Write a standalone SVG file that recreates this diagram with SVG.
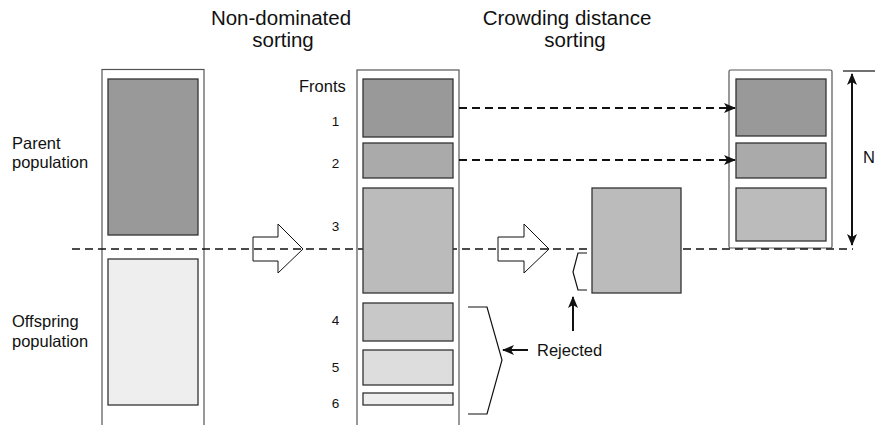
<svg xmlns="http://www.w3.org/2000/svg" width="875" height="425" viewBox="0 0 875 425">
<defs>
<style>
text{font-family:"Liberation Sans",Arial,sans-serif;fill:#111}
.t{font-size:20.5px;text-anchor:middle}
.l{font-size:16.5px}
.n{font-size:13.5px;text-anchor:middle}
.col{fill:#fff;stroke:#555;stroke-width:1.2}
.box{stroke:#333;stroke-width:1.3}
.hollow{fill:#fff;stroke:#111;stroke-width:1}
.dash{fill:none;stroke:#111;stroke-width:1.3;stroke-dasharray:8 5}
.dashb{fill:none;stroke:#111;stroke-width:2;stroke-dasharray:8 5}
.thin{fill:none;stroke:#111;stroke-width:1.2}
.solid{fill:none;stroke:#111;stroke-width:2}
</style>
<marker id="ah" viewBox="0 0 12 10" refX="11" refY="5" markerWidth="12" markerHeight="10" markerUnits="userSpaceOnUse" orient="auto-start-reverse">
<path d="M0,0 L12,5 L0,10 L3,5 Z" fill="#111"/>
</marker>
</defs>

<g id="titles">
<text class="t" x="281" y="25">Non-dominated</text>
<text class="t" x="283" y="47">sorting</text>
<text class="t" x="567" y="25">Crowding distance</text>
<text class="t" x="575" y="47">sorting</text>
</g>

<g id="columns">
<rect class="col" x="102" y="69.5" width="102" height="380"/>
<rect class="col" x="357" y="70" width="102" height="380"/>
<rect class="col" x="729" y="70" width="103" height="178" rx="1.5"/>
</g>

<g id="connectors">
<polygon class="hollow" points="253,237 278,237 278,224 303,249 278,273 278,261 253,261"/>
<polygon class="hollow" points="498,237 524,237 524,224 549,249 524,273 524,261 498,261"/>
<path class="dash" d="M72,249 H853"/>
<path class="dashb" d="M459,108 H735" marker-end="url(#ah)"/>
<path class="dashb" d="M459,160 H735" marker-end="url(#ah)"/>
<path class="thin" d="M843,71 H875"/>
<path class="solid" d="M852,74 V245" marker-start="url(#ah)" marker-end="url(#ah)"/>
<path class="thin" d="M468,307 H487 L502,360 L487,414 H468"/>
<path class="thin" d="M587,253 H578 L573,272 L578,290 H587"/>
<path class="solid" d="M573,331 V297" marker-end="url(#ah)"/>
<path class="solid" d="M528,350 H503" marker-end="url(#ah)"/>
<text class="l" x="537" y="356">Rejected</text>
</g>

<g id="population">
<rect class="box" x="108" y="79" width="90" height="156" fill="#999"/>
<rect class="box" x="108" y="259" width="90" height="146" fill="#eee"/>
<text class="l" x="12" y="149">Parent</text>
<text class="l" x="12" y="168">population</text>
<text class="l" x="12" y="327">Offspring</text>
<text class="l" x="12" y="347">population</text>
</g>

<g id="fronts">
<rect class="box" x="363" y="79" width="90" height="58" fill="#999"/>
<rect class="box" x="363" y="143" width="90" height="35" fill="#aaa"/>
<rect class="box" x="363" y="188" width="90" height="105" fill="#bbb"/>
<rect class="box" x="363" y="303" width="90" height="38" fill="#c8c8c8"/>
<rect class="box" x="363" y="350" width="90" height="35" fill="#ddd"/>
<rect class="box" x="363" y="393" width="90" height="12" fill="#eee"/>
<text class="l" x="299" y="92">Fronts</text>
<text class="n" x="335.5" y="126">1</text>
<text class="n" x="335.5" y="168">2</text>
<text class="n" x="335.5" y="231">3</text>
<text class="n" x="335.5" y="325">4</text>
<text class="n" x="335.5" y="372">5</text>
<text class="n" x="335.5" y="408">6</text>
</g>

<g id="front3-sorted">
<rect class="box" x="592" y="188" width="89" height="105" fill="#bbb"/>
</g>

<g id="new-population">
<rect class="box" x="736" y="79" width="90" height="57" fill="#999"/>
<rect class="box" x="736" y="143" width="90" height="35" fill="#aaa"/>
<rect class="box" x="736" y="188" width="90" height="53" fill="#bbb"/>
<text class="l" x="863" y="163">N</text>
</g>
</svg>
